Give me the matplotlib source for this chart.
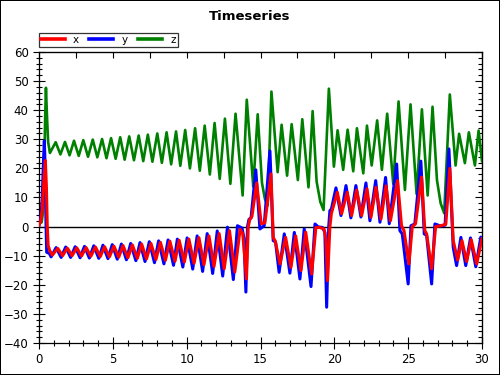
import matplotlib
matplotlib.use("Agg")
import matplotlib.pyplot as plt
from matplotlib.ticker import MultipleLocator

# values (turning points of each curve)
x_t = [0.00, 0.12, 0.22, 0.32, 0.43, 0.50, 0.56, 0.62, 0.72,
       0.90, 1.27, 1.60, 1.92, 2.24, 2.56, 2.88, 3.19, 3.51, 3.82,
       4.15, 4.44, 4.77, 5.07, 5.40, 5.69, 6.02, 6.32, 6.66, 6.95,
       7.28, 7.58, 7.92, 8.22, 8.56, 8.86, 9.21, 9.49, 9.84, 10.15,
       10.50, 10.83, 11.17, 11.51, 11.85, 12.20, 12.54, 12.90, 13.26, 13.62,
       13.80, 14.05,
       14.17, 14.28, 14.42, 14.74, 15.05, 15.30, 15.71, 15.86, 16.00, 16.32,
       16.70, 17.06, 17.38, 17.74, 18.06, 18.46, 18.75, 19.00, 19.30, 19.42,
       19.54,
       19.70, 19.80, 20.20, 20.49, 20.87, 21.17, 21.51, 21.85, 22.21, 22.48,
       22.82, 23.16, 23.50, 23.80, 24.28, 24.55, 24.72, 25.05, 25.28, 25.50,
       25.91, 26.13, 26.25, 26.59, 26.86, 27.20, 27.55, 27.82, 28.05, 28.35,
       28.64, 28.96, 29.27, 29.64, 30.00]
x_v = [0.5, 2.0, 6.0, 15.0, 22.7, 14.0, 0.0, -6.5, -8.2,
       -9.8, -7.5, -10.0, -7.4, -10.0, -7.3, -10.1, -7.2, -10.2, -7.0,
       -10.3, -6.9, -10.4, -6.7, -10.5, -6.5, -10.7, -6.3, -10.9, -6.0,
       -11.1, -5.8, -11.3, -5.4, -11.6, -5.0, -11.9, -4.7, -12.2, -4.3,
       -12.6, -3.8, -13.1, -3.2, -13.7, -2.4, -14.5, -1.4, -15.6, -0.9,
       -2.5, -18.0,
       0.0, 2.5, 3.5, 15.0, 1.0, 1.3, 18.1, -3.7, -5.0, -12.8,
       -3.7, -14.0, -3.2, -15.1, -1.9, -16.3, -0.3, -0.3, -0.8, -4.0,
       -18.6,
       0.0, 4.5, 11.8, 4.4, 11.8, 3.8, 12.6, 3.8, 13.0, 3.2,
       13.5, 2.6, 14.0, 2.0, 15.8, 0.3, -1.4, -12.8, 0.0, 1.0,
       17.0, -1.4, -2.5, -14.5, 0.0, 0.3, 0.8, 20.0, -4.8, -11.5,
       -4.8, -12.0, -4.5, -12.8, -4.2]

y_t = [0.00, 0.12, 0.22, 0.30, 0.36, 0.42, 0.47, 0.52, 0.70,
       0.82, 1.16, 1.50, 1.81, 2.14, 2.45, 2.78, 3.08, 3.41, 3.71,
       4.05, 4.33, 4.67, 4.96, 5.30, 5.58, 5.92, 6.21, 6.56, 6.84,
       7.18, 7.47, 7.82, 8.10, 8.46, 8.74, 9.11, 9.37, 9.74, 10.03,
       10.41, 10.71, 11.08, 11.39, 11.76, 12.07, 12.44, 12.76, 13.16, 13.44,
       13.75, 13.88, 14.01,
       14.12, 14.22, 14.36, 14.68, 14.96, 15.25, 15.64, 15.86, 16.02, 16.26,
       16.61, 16.99, 17.29, 17.67, 17.96, 18.42, 18.69, 18.90, 19.20, 19.36,
       19.48,
       19.62, 19.70, 19.80, 20.11, 20.45, 20.79, 21.12, 21.46, 21.80, 22.14,
       22.41, 22.80, 23.09, 23.47, 23.72, 24.22, 24.44, 24.60, 25.00, 25.19,
       25.45, 25.86, 26.09, 26.25, 26.59, 26.81, 27.20, 27.50, 27.76, 28.05,
       28.28, 28.57, 28.90, 29.22, 29.58, 29.92, 30.00]
y_v = [0.5, 3.0, 10.0, 22.0, 29.5, 20.0, 2.0, -8.8, -9.2,
       -10.4, -7.2, -10.6, -7.0, -10.6, -6.9, -10.7, -6.8, -10.8, -6.6,
       -10.9, -6.4, -11.0, -6.2, -11.2, -6.0, -11.4, -5.8, -11.7, -5.5,
       -12.0, -5.2, -12.4, -4.9, -12.8, -4.6, -13.3, -4.3, -13.9, -3.9,
       -14.6, -3.2, -15.4, -2.4, -16.1, -1.5, -17.0, -0.2, -18.2, 0.3,
       -0.5, -4.0, -22.5,
       0.0, 2.5, 3.0, 19.5, -0.8, 0.3, 26.0, -4.8, -5.3, -15.7,
       -2.5, -16.0, -2.0, -18.0, -0.8, -20.6, 0.9, -0.1, -0.3, -2.0,
       -27.7,
       0.0, 5.5, 6.0, 13.3, 3.8, 14.1, 3.0, 14.1, 3.3, 15.0,
       2.0, 15.8, 1.5, 16.9, 1.0, 21.5, -1.4, -2.5, -19.7, 0.3,
       0.9, 22.5, -2.5, -3.0, -19.7, 0.9, 0.2, 0.5, 26.7, -7.1,
       -13.4, -3.7, -13.4, -3.9, -13.8, -3.6, -4.0]

z_t = [0.00, 0.18, 0.27, 0.34, 0.41, 0.47, 0.54, 0.62, 0.74,
       1.13, 1.45, 1.76, 2.07, 2.37, 2.69, 3.00, 3.32, 3.64, 3.95,
       4.27, 4.57, 4.88, 5.19, 5.50, 5.80, 6.11, 6.43, 6.75, 7.06,
       7.37, 7.68, 8.01, 8.32, 8.64, 8.95, 9.28, 9.57, 9.90, 10.22,
       10.57, 10.89, 11.22, 11.57, 11.89, 12.24, 12.59, 12.96, 13.31, 13.79,
       14.07,
       14.51, 14.81, 15.10, 15.30, 15.48, 15.74, 16.16, 16.43, 16.80, 17.11,
       17.53, 17.83, 18.25, 18.53, 18.80, 19.05, 19.27, 19.63,
       19.97, 20.22, 20.60, 20.90, 21.28, 21.53, 21.96, 22.21, 22.53, 22.90,
       23.22, 23.58, 23.99, 24.35, 24.78, 25.16, 25.57, 25.93, 26.32, 26.65,
       26.95, 27.20, 27.44, 27.82, 28.21, 28.45, 28.84, 29.11, 29.52, 29.77,
       30.00]
z_v = [1.0, 1.5, 5.0, 15.0, 36.0, 47.7, 38.0, 29.0, 25.3,
       29.0, 24.8, 29.1, 24.5, 29.5, 24.3, 29.7, 24.0, 29.9, 23.8,
       30.1, 23.5, 30.4, 23.3, 30.7, 23.0, 31.0, 22.8, 31.3, 22.5,
       31.6, 22.3, 32.0, 21.9, 32.4, 21.4, 32.7, 20.9, 33.2, 20.0,
       33.8, 19.2, 34.7, 17.9, 35.6, 16.4, 37.1, 14.7, 38.8, 10.7,
       43.6,
       13.7, 38.6, 15.0, 9.5, 7.2, 46.4, 18.7, 35.0, 17.5, 35.2,
       16.0, 36.9, 13.5, 39.7, 15.5, 8.5, 5.7, 47.4,
       20.6, 33.1, 19.5, 33.3, 19.0, 33.8, 18.3, 34.7, 21.0, 36.5,
       19.5, 38.8, 14.7, 43.0, 12.6, 42.0, 11.2, 40.3, 10.7, 41.2,
       16.0, 8.0, 4.6, 45.4, 21.0, 31.9, 21.8, 32.4, 21.0, 33.0,
       22.5]

fig = plt.figure(figsize=(5, 3.75), dpi=100, facecolor="white",
                 edgecolor="black", linewidth=1.4)
ax = fig.add_axes([39 / 500, 1 - 343 / 375, 443 / 500, 291 / 375])

ax.axhline(0, color="black", lw=1.0, zorder=1.5)
ax.plot(z_t, z_v, color="#008000", lw=1.9, label="z", zorder=2)
ax.plot(y_t, y_v, color="#0000ff", lw=2.2, label="y", zorder=3)
ax.plot(x_t, x_v, color="#ff0000", lw=2.2, label="x", zorder=4)

ax.set_xlim(0, 30)
ax.set_ylim(-40, 60)

ax.xaxis.set_major_locator(MultipleLocator(5))
ax.xaxis.set_minor_locator(MultipleLocator(1))
ax.yaxis.set_major_locator(MultipleLocator(10))
ax.yaxis.set_minor_locator(MultipleLocator(2))

ax.tick_params(which="both", direction="inout", labelsize=8.5,
               color="black", width=0.8, pad=3)
ax.tick_params(which="major", length=9)
ax.tick_params(which="minor", length=5)
ax.tick_params(axis="y", which="both", right=True, labelright=False)

for s in ax.spines.values():
    s.set_linewidth(0.9)

# inward ticks on the right and top edges
sec = ax.secondary_yaxis("right")
sec.yaxis.set_major_locator(MultipleLocator(10))
sec.yaxis.set_minor_locator(MultipleLocator(2))
sec.tick_params(which="both", direction="in", labelright=False, width=0.8)
sec.tick_params(which="major", length=5)
sec.tick_params(which="minor", length=3)
ax.tick_params(axis="y", which="both", right=False)
top = ax.secondary_xaxis("top")
top.xaxis.set_major_locator(MultipleLocator(2.5))
top.tick_params(which="both", direction="in", labeltop=False, length=4, width=0.8)
top.xaxis.set_minor_locator(MultipleLocator(100))

handles, labels = ax.get_legend_handles_labels()
order = [2, 1, 0]
leg = fig.legend([handles[i] for i in order], [labels[i] for i in order],
                 loc="lower left", bbox_to_anchor=(39 / 500, 1 - 46.5 / 375),
                 ncol=3, fontsize=7.5, frameon=True, fancybox=False,
                 handlelength=2.3, handletextpad=0.8, columnspacing=1.0,
                 borderpad=0.15, borderaxespad=0, edgecolor="black")
leg.get_frame().set_linewidth(0.9)
for line in leg.get_lines():
    line.set_linewidth(2.6)

fig.text(0.5, 1 - 17 / 375, "Timeseries", ha="center", va="center",
         fontsize=9.5, fontweight="bold")

fig.savefig("out.png", dpi=100, facecolor="white", edgecolor="black")
